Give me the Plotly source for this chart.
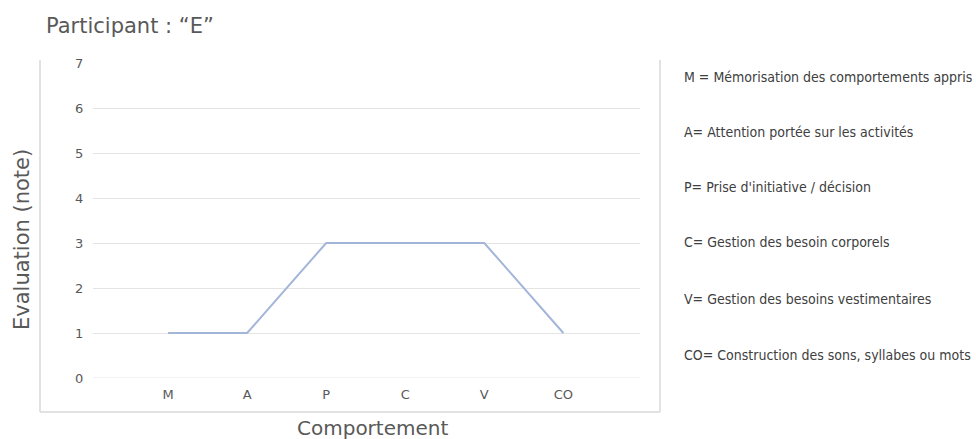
import plotly.graph_objects as go

categories = ["M", "A", "P", "C", "V", "CO"]
values = [1, 1, 3, 3, 3, 1]
y_ticks = [0, 1, 2, 3, 4, 5, 6, 7]
legend_lines = [
    "M = Mémorisation des comportements appris",
    "A= Attention portée sur les activités",
    "P= Prise d'initiative / décision",
    "C= Gestion des besoin corporels",
    "V= Gestion des besoins vestimentaires",
    "CO= Construction des sons, syllabes ou mots",
]
title_text = 'Participant : “E”'
x_title = "Comportement"
y_title = "Evaluation (note)"

W, H = 976, 439
L, R, T, B = 93, 640, 63, 378

fig = go.Figure()
fig.add_trace(go.Scatter(
    x=categories, y=values, mode="lines",
    line=dict(color="#a3b6d9", width=2),
    showlegend=False, hoverinfo="skip",
))

gray = "#595959"
fig.update_layout(
    width=W, height=H,
    margin=dict(l=L, r=W - R, t=T, b=H - B, pad=0),
    paper_bgcolor="white", plot_bgcolor="white",
    font=dict(family="DejaVu Sans", color=gray, size=13),
    xaxis=dict(
        type="category", range=[-0.95, 5.97], showgrid=False, zeroline=False,
        showline=False, ticks="outside", ticklen=4, tickcolor="rgba(0,0,0,0)",
        tickfont=dict(size=13, color=gray), fixedrange=True,
    ),
    yaxis=dict(
        range=[0, 7], tickvals=y_ticks, showgrid=True, gridcolor="#e4e4e4",
        gridwidth=1, zeroline=False, showline=False, ticks="outside",
        ticklen=6, tickcolor="rgba(0,0,0,0)",
        tickfont=dict(size=13, color=gray), fixedrange=True,
    ),
)

# 0 gridline
fig.add_shape(type="line", xref="paper", yref="y", x0=0, x1=1, y0=0, y1=0,
              line=dict(color="#e4e4e4", width=1))

frame_col = "#d9d9d9"
def px_x(p):
    return (p - L) / (R - L)
def px_y(p):
    return (B - p) / (B - T)
for (x0, y0, x1, y1) in [(40, 60, 40, 412), (40, 412, 660, 412), (660, 60, 660, 412)]:
    fig.add_shape(type="line", xref="paper", yref="paper",
                  x0=px_x(x0), x1=px_x(x1), y0=px_y(y0), y1=px_y(y1),
                  line=dict(color=frame_col, width=1.5))

annos = []
annos.append(dict(text=title_text, x=px_x(44), y=px_y(26), xanchor="left", yanchor="middle",
                  font=dict(size=21, color=gray, family="DejaVu Sans")))
annos.append(dict(text=x_title, x=px_x(372), y=px_y(428), xanchor="center", yanchor="middle",
                  font=dict(size=20, color=gray, family="DejaVu Sans")))
annos.append(dict(text=y_title, x=px_x(22), y=px_y(240), xanchor="center", yanchor="middle",
                  textangle=-90, font=dict(size=21, color=gray, family="DejaVu Sans")))
leg_y = [77, 132, 187, 242, 299, 355]
for t, yy in zip(legend_lines, leg_y):
    annos.append(dict(text=t, x=px_x(682), y=px_y(yy), xanchor="left", yanchor="middle",
                      font=dict(size=14, color="#404040", family="DejaVu Sans Condensed")))
for a in annos:
    a.update(xref="paper", yref="paper", showarrow=False)
fig.update_layout(annotations=annos)

fig.write_html("out.html")
